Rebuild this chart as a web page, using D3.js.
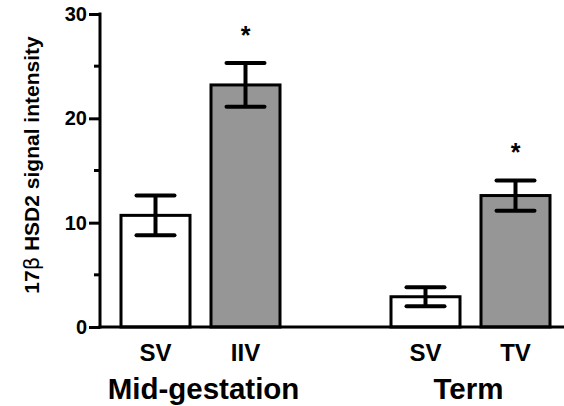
<!DOCTYPE html>
<html lang="en">
<head>
<meta charset="UTF-8">
<title>17β HSD2 signal intensity</title>
<script src="https://d3js.org/d3.v7.min.js"></script>
<style>
    body { margin: 0; background: #fff; }
    text { font-family: "Liberation Sans", Arial, sans-serif; font-weight: bold; fill: #000; }
</style>
</head>
<body>
<script>
    // Data
    const categories = ["SV", "IIV", "SV", "TV"];
    const slots = [0, 1, 3, 4];           // position of each bar (gap between groups)
    const groups = ["Mid-gestation", "Term"];
    const means = [10.7, 23.2, 2.9, 12.6];
    const errs = [1.9, 2.1, 0.9, 1.45];
    const stars = [false, true, false, true];
    const fills = ["#ffffff", "#969696", "#ffffff", "#969696"];
    const majorTicks = [0, 10, 20, 30];
    const minorTicks = [5, 15, 25];

    const W = 564, H = 406;
    const svg = d3.select("body").append("svg")
        .attr("width", W).attr("height", H);

    const y = d3.scaleLinear().domain([0, 30]).range([327, 14]);
    const x = d3.scaleLinear().domain([0, 1]).range([155.5, 245.5]);
    const barW = 69;
    const capW = 38;

    // y axis
    const yAxis = svg.append("g").attr("transform", "translate(100,0)");
    yAxis.call(d3.axisLeft(y).tickValues(majorTicks).tickSize(11).tickPadding(2).tickFormat(d3.format("d")));
    yAxis.select(".domain").remove();
    yAxis.selectAll(".tick line").attr("stroke-width", 3);
    yAxis.selectAll(".tick text").style("font-size", "20px").style("font-family", "Liberation Sans, Arial, sans-serif").style("font-weight", "bold");
    yAxis.append("g").selectAll("line").data(minorTicks).enter().append("line")
        .attr("x1", -6).attr("x2", 0)
        .attr("y1", d => y(d)).attr("y2", d => y(d))
        .attr("stroke", "#000").attr("stroke-width", 3);
    yAxis.append("line").attr("x1", 0).attr("x2", 0)
        .attr("y1", y(30) - 1.5).attr("y2", y(0) + 1.5)
        .attr("stroke", "#000").attr("stroke-width", 3);

    // bars
    svg.selectAll(".bar").data(means).enter().append("rect")
        .attr("class", "bar")
        .attr("x", (d, i) => x(slots[i]) - barW / 2)
        .attr("y", d => y(d))
        .attr("width", barW)
        .attr("height", d => y(0) - y(d))
        .attr("fill", (d, i) => fills[i])
        .attr("stroke", "#000").attr("stroke-width", 3);

    // x axis line
    svg.append("line").attr("x1", 98.5).attr("x2", W)
        .attr("y1", y(0)).attr("y2", y(0))
        .attr("stroke", "#000").attr("stroke-width", 3);

    // error bars
    const eb = svg.selectAll(".err").data(means).enter().append("g").attr("class", "err");
    eb.append("line")
        .attr("x1", (d, i) => x(slots[i])).attr("x2", (d, i) => x(slots[i]))
        .attr("y1", (d, i) => y(d + errs[i])).attr("y2", (d, i) => y(d - errs[i]))
        .attr("stroke", "#000").attr("stroke-width", 4);
    eb.append("line")
        .attr("x1", (d, i) => x(slots[i]) - capW / 2).attr("x2", (d, i) => x(slots[i]) + capW / 2)
        .attr("y1", (d, i) => y(d + errs[i])).attr("y2", (d, i) => y(d + errs[i]))
        .attr("stroke", "#000").attr("stroke-width", 4).attr("stroke-linecap", "round");
    eb.append("line")
        .attr("x1", (d, i) => x(slots[i]) - capW / 2).attr("x2", (d, i) => x(slots[i]) + capW / 2)
        .attr("y1", (d, i) => y(d - errs[i])).attr("y2", (d, i) => y(d - errs[i]))
        .attr("stroke", "#000").attr("stroke-width", 4).attr("stroke-linecap", "round");

    // significance stars
    svg.selectAll(".star").data(means.filter((d, i) => stars[i])).enter().append("text")
        .attr("class", "star")
        .attr("x", d => x(slots[means.indexOf(d)]))
        .attr("y", d => y(d + errs[means.indexOf(d)]) - 19)
        .attr("text-anchor", "middle")
        .style("font-size", "25px")
        .text("*");

    // category labels
    svg.selectAll(".cat").data(categories).enter().append("text")
        .attr("class", "cat")
        .attr("x", (d, i) => x(slots[i]))
        .attr("y", 361)
        .attr("text-anchor", "middle")
        .style("font-size", "24px")
        .text(d => d);

    // group labels
    svg.selectAll(".grp").data(groups).enter().append("text")
        .attr("class", "grp")
        .attr("x", (d, i) => (x(slots[i * 2]) + x(slots[i * 2 + 1])) / 2 + (i ? -2 : 3))
        .attr("y", 399)
        .attr("text-anchor", "middle")
        .style("font-size", "29.5px")
        .text(d => d);

    // y axis title
    const title = svg.append("text")
        .attr("transform", "translate(39,165) rotate(-90)")
        .attr("text-anchor", "middle")
        .style("font-size", "21px");
    title.append("tspan").text("17");
    title.append("tspan").style("font-weight", "normal").style("font-family", "DejaVu Sans, sans-serif").text("β");
    title.append("tspan").text(" HSD2 signal intensity");
</script>
</body>
</html>
